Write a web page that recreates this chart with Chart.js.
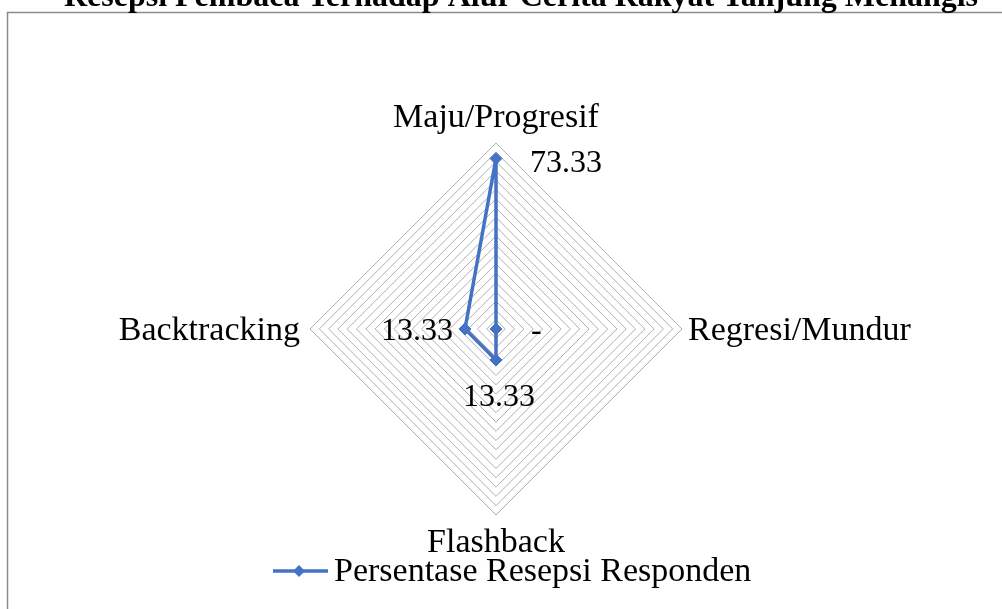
<!DOCTYPE html>
<html>
<head>
<meta charset="utf-8">
<script src="https://cdn.jsdelivr.net/npm/chart.js@4.4.1/dist/chart.umd.min.js"></script>
<style>
  body { margin: 0; background: #fff; }
  #wrap { position: relative; width: 1002px; height: 609px; overflow: hidden; }
</style>
</head>
<body>
<div id="wrap"><canvas id="myRadarChart" width="1002" height="609"></canvas></div>
<script>
// data
var chartTitle = "Resepsi Pembaca Terhadap Alur Cerita Rakyat Tanjung Menangis";
var categories = ["Maju/Progresif", "Regresi/Mundur", "Flashback", "Backtracking"];
var seriesName = "Persentase Resepsi Responden";
var seriesValues = [73.33, 0, 13.33, 13.33];
var valueLabels = ["73.33", "-", "13.33", "13.33"];
var axisMax = 80;
var axisStep = 4;

var serif = "'Liberation Serif', 'Times New Roman', serif";
var blue = "#4472C4";

// frame, title, category labels, data labels and legend
var decorPlugin = {
  id: "decor",
  beforeDraw: function(chart) {
    var ctx = chart.ctx;
    ctx.save();
    ctx.fillStyle = "#fff";
    ctx.fillRect(0, 0, chart.width, chart.height);
    ctx.strokeStyle = "#8c8c8c";
    ctx.lineWidth = 1.5;
    ctx.strokeRect(7.5, 12.5, 1100, 700);
    ctx.fillStyle = "#000";
    ctx.font = "bold 32px " + serif;
    ctx.textAlign = "center";
    ctx.textBaseline = "alphabetic";
    ctx.fillText(chartTitle, 521, 6);
    ctx.restore();
  },
  afterDatasetsDraw: function(chart) {
    var ctx = chart.ctx;
    var scale = chart.scales.r;
    ctx.save();
    ctx.fillStyle = "#000";
    ctx.font = "34px " + serif;
    ctx.textBaseline = "alphabetic";

    // category labels
    var catPos = [
      { align: "center", y: 127 },
      { align: "left", y: 340 },
      { align: "center", y: 552 },
      { align: "right", y: 340 }
    ];
    var outer = scale.drawingArea;
    for (var i = 0; i < categories.length; i++) {
      var p = scale.getPointPosition(i, outer);
      var x = p.x;
      if (i === 1) x = p.x + 6;
      if (i === 3) x = p.x - 10;
      ctx.textAlign = catPos[i].align;
      ctx.fillText(categories[i], x, catPos[i].y);
    }

    // data labels
    var meta = chart.getDatasetMeta(0);
    ctx.font = "32px " + serif;
    for (var j = 0; j < meta.data.length; j++) {
      var pt = meta.data[j];
      if (j === 0) { ctx.textAlign = "left"; ctx.fillText(valueLabels[j], pt.x + 34, pt.y + 13); }
      if (j === 1) { ctx.textAlign = "left"; ctx.fillText(valueLabels[j], pt.x + 35, pt.y + 11); }
      if (j === 2) { ctx.textAlign = "center"; ctx.fillText(valueLabels[j], pt.x + 3, pt.y + 46); }
      if (j === 3) { ctx.textAlign = "right"; ctx.fillText(valueLabels[j], pt.x - 12, pt.y + 11); }
    }

    // legend
    var ly = 571;
    ctx.strokeStyle = blue;
    ctx.lineWidth = 3.5;
    ctx.beginPath();
    ctx.moveTo(273, ly);
    ctx.lineTo(328, ly);
    ctx.stroke();
    ctx.fillStyle = blue;
    ctx.beginPath();
    ctx.moveTo(299, ly - 6);
    ctx.lineTo(305, ly);
    ctx.lineTo(299, ly + 6);
    ctx.lineTo(293, ly);
    ctx.closePath();
    ctx.fill();
    ctx.fillStyle = "#000";
    ctx.font = "34px " + serif;
    ctx.textAlign = "left";
    ctx.fillText(seriesName, 334, 581);
    ctx.restore();
  }
};

var ctx = document.getElementById("myRadarChart");

var chart = new Chart(ctx, {
  type: "radar",
  data: {
    labels: categories,
    datasets: [
      {
        label: seriesName,
        data: seriesValues,
        fill: false,
        borderColor: blue,
        backgroundColor: blue,
        borderWidth: 3.5,
        pointStyle: "rectRot",
        pointRadius: 6,
        pointBackgroundColor: blue,
        pointBorderColor: blue,
        pointBorderWidth: 1
      }
    ]
  },
  options: {
    responsive: false,
    animation: false,
    devicePixelRatio: 1,
    plugins: {
      legend: { display: false },
      title: { display: false },
      tooltip: { enabled: false }
    },
    scales: {
      r: {
        min: 0,
        max: axisMax,
        ticks: { display: false, stepSize: axisStep },
        grid: { color: "#b0b0b0", lineWidth: 1 },
        angleLines: { display: false },
        pointLabels: { display: false },
        afterFit: function(scale) {
          scale.xCenter = 496;
          scale.yCenter = 329;
          scale.drawingArea = 186;
        }
      }
    }
  },
  plugins: [decorPlugin]
});
</script>
</body>
</html>
